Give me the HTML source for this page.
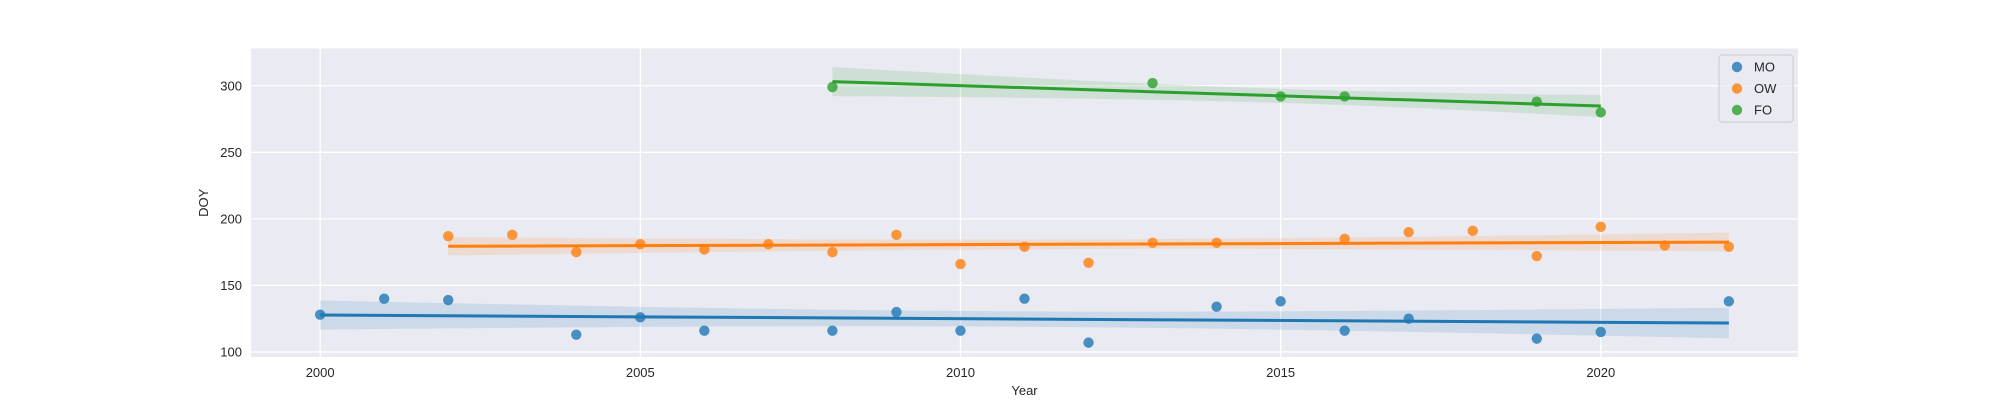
<!DOCTYPE html>
<html><head><meta charset="utf-8"><style>
body{margin:0;background:#fff;}
svg{display:block;font-family:"Liberation Sans",Arial,sans-serif;}
</style></head><body>
<svg id="chart" width="2000" height="400" viewBox="0 0 2000 400" xmlns="http://www.w3.org/2000/svg"></svg>
<script>
const xTicks=[2000,2005,2010,2015,2020];
const yTicks=[100,150,200,250,300];
const moYears=[2000,2001,2002,2004,2005,2006,2008,2009,2010,2011,2012,2014,2015,2016,2017,2019,2020,2022];
const moValues=[128,140,139,113,126,116,116,130,116,140,107,134,138,116,125,110,115,138];
const owYears=[2002,2003,2004,2005,2006,2007,2008,2009,2010,2011,2012,2013,2014,2016,2017,2018,2019,2020,2021,2022];
const owValues=[187,188,175,181,177,181,175,188,166,179,167,182,182,185,190,191,172,194,180,179];
const foYears=[2008,2013,2015,2016,2019,2020];
const foValues=[299,302,292,292,288,280];
const seriesNames=["MO","OW","FO"];

const NS="http://www.w3.org/2000/svg";
const svg=document.getElementById('chart');
const L=251,R=1798,T=48.5,B=357;
const X0=1998.92,X1=2023.08,Y0=96.2,Y1=328;
const sx=v=>L+(v-X0)/(X1-X0)*(R-L);
const sy=v=>B-(v-Y0)/(Y1-Y0)*(B-T);
function mk(tag,attrs,parent){const e=document.createElementNS(NS,tag);for(const k in attrs)e.setAttribute(k,attrs[k]);(parent||svg).appendChild(e);return e;}

const bg=mk('rect',{x:L,y:T,width:R-L,height:B-T,fill:'#eaeaf2'});


xTicks.forEach(t=>{
  const g=mk('line',{x1:sx(t),x2:sx(t),y1:T,y2:B,stroke:'#fff','stroke-width':1.3});
  
  
  const tx=mk('text',{x:sx(t),y:377,'text-anchor':'middle','font-size':13,fill:'#262626'});
  tx.textContent=t;
  
  
});
yTicks.forEach(t=>{
  const g=mk('line',{x1:L,x2:R,y1:sy(t),y2:sy(t),stroke:'#fff','stroke-width':1.3});
  
  
  const tx=mk('text',{x:242,y:sy(t)+4.5,'text-anchor':'end','font-size':13,fill:'#262626'});
  tx.textContent=t;
  
  
});
const xl=mk('text',{x:(L+R)/2,y:395,'text-anchor':'middle','font-size':13,fill:'#262626'});
xl.textContent='Year';


const yl=mk('text',{x:0,y:0,'text-anchor':'middle','font-size':13,fill:'#262626',transform:'translate(208,'+((T+B)/2)+') rotate(-90)'});
yl.textContent='DOY';



function drawSeries(xs,ys,color,name){
  const n=xs.length;
  const mx=xs.reduce((a,b)=>a+b)/n, my=ys.reduce((a,b)=>a+b)/n;
  let sxx=0,sxy=0;xs.forEach((x,i)=>{sxx+=(x-mx)**2;sxy+=(x-mx)*(ys[i]-my);});
  const b=sxy/sxx,a=my-b*mx;
  let sse=0;xs.forEach((x,i)=>{sse+=(ys[i]-a-b*x)**2;});
  const s=Math.sqrt(sse/(n-2));const tq=n>10?2.1:2.78;
  const xmin=Math.min(...xs),xmax=Math.max(...xs);
  const up=[],lo=[];
  for(let k=0;k<=40;k++){const x=xmin+(xmax-xmin)*k/40;const yh=a+b*x;const h=tq*s*Math.sqrt(1/n+(x-mx)**2/sxx);
    up.push(sx(x)+','+sy(yh+h));lo.unshift(sx(x)+','+sy(yh-h));}
  const band=mk('polygon',{points:up.concat(lo).join(' '),fill:color,'fill-opacity':0.15});
  
  
  xs.forEach((x,i)=>{
    const c=mk('circle',{cx:sx(x),cy:sy(ys[i]),r:5.2,fill:color,'fill-opacity':0.8});
    
    
  });
  const ln=mk('line',{x1:sx(xmin),y1:sy(a+b*xmin),x2:sx(xmax),y2:sy(a+b*xmax),stroke:color,'stroke-width':3});
  
  
}
const colors=['#1f77b4','#ff7f0e','#2ca02c'];
drawSeries(moYears,moValues,colors[0],'mo');
drawSeries(owYears,owValues,colors[1],'ow');
drawSeries(foYears,foValues,colors[2],'fo');

const lg=mk('g',{});


const lr=mk('rect',{x:1719,y:55,width:74,height:67,rx:3,fill:'#eaeaf2','fill-opacity':0.8,stroke:'#cccccc'},lg);


seriesNames.forEach((nm,i)=>{
  const cy=67+i*21.5;
  const c=mk('circle',{cx:1737,cy:cy,r:5.2,fill:colors[i],'fill-opacity':0.8},lg);
  
  
  const t=mk('text',{x:1754,y:cy+4.5,'font-size':13,fill:'#262626'},lg);
  t.textContent=nm;
  
  
});
</script>
</body></html>
